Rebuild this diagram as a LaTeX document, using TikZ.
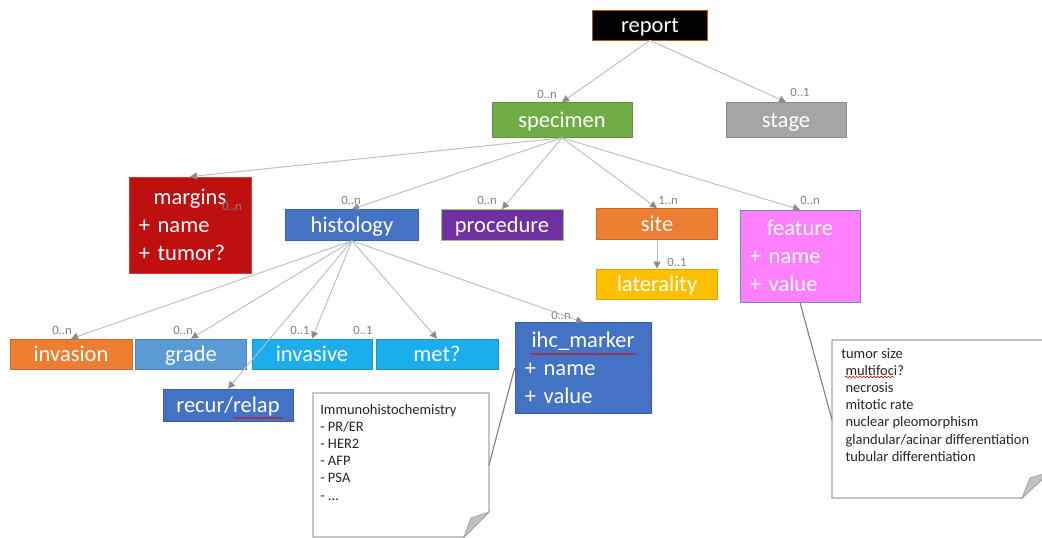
\documentclass[tikz,border=0pt]{standalone}
\usepackage{fontspec}
\setmainfont{Carlito}
\usetikzlibrary{arrows.meta,decorations.pathmorphing}

\definecolor{cgreen}{HTML}{70AD47}
\definecolor{cgray}{HTML}{A5A5A5}
\definecolor{cred}{HTML}{C00F0F}
\definecolor{cblue}{HTML}{4472C4}
\definecolor{cpurple}{HTML}{7030A0}
\definecolor{corange}{HTML}{ED7D31}
\definecolor{cgold}{HTML}{FFC000}
\definecolor{cpink}{HTML}{FF80FF}
\definecolor{clight}{HTML}{5B9BD5}
\definecolor{ccyan}{HTML}{1AAFEC}
\definecolor{labgray}{HTML}{7F7F7F}
\definecolor{linegray}{HTML}{BFBFBF}
\definecolor{tipgray}{HTML}{8C8C8C}
\definecolor{notegray}{HTML}{A6A6A6}

\begin{document}
\begin{tikzpicture}[x=0.025cm, y=-0.025cm,
    box/.style={draw, rectangle, text=white, inner sep=0pt, line width=0.5pt,
        font=\fontsize{16}{20}\selectfont},
    oneline/.style={box, text height=14pt, text depth=3pt},
    lab/.style={text=labgray, inner sep=0pt, font=\fontsize{9}{10}\selectfont},
    link/.style={draw=linegray, line width=0.7pt, -{Triangle[length=5pt,width=5pt,color=tipgray]}},
    callout/.style={draw=gray, line width=0.8pt},
    notebox/.style={draw=notegray, fill=white, line width=0.8pt},
    notetext/.style={anchor=north west, align=left, inner sep=0pt, text=black!85,
        font=\fontsize{10.3}{12.2}\selectfont},
    squig/.style={draw=red!85!black, line width=0.4pt, decorate,
        decoration={snake, amplitude=0.6pt, segment length=2.5pt}}]
        \useasboundingbox (0,0) rectangle (1042,538);

        \node[oneline, fill=black, draw=orange!70!black, minimum width=2.875cm, minimum height=0.75cm] (report) at (650,25) {report};
        \node[oneline, fill=cgreen, draw=cgreen!85!black, minimum width=3.5cm, minimum height=0.875cm] (specimen) at (562,120) {specimen};
        \node[oneline, fill=cgray, draw=cgray!85!black, minimum width=3cm, minimum height=0.875cm] (stage) at (786,120) {stage};

        \node[box, fill=cred, draw=cred!80!white, minimum width=3.05cm, minimum height=2.4cm, text width=2.55cm, align=left] (margins) at (190,225)
            {\makebox[2.55cm]{margins}\\+ name\\+ tumor?};
        \node[oneline, fill=cblue, draw=cblue!85!black, minimum width=3.325cm, minimum height=0.775cm] (histology) at (352,225) {histology};
        \node[oneline, fill=cpurple, draw=cgreen!70!white, minimum width=3.05cm, minimum height=0.775cm] (procedure) at (502,225) {procedure};
        \node[oneline, fill=corange, draw=corange!85!black, minimum width=3.025cm, minimum height=0.775cm] (site) at (657,224) {site};
        \node[oneline, fill=cgold, draw=cgold!85!black, minimum width=3.025cm, minimum height=0.75cm] (laterality) at (657,284) {laterality};
        \node[box, fill=cpink, draw=cblue!80!white, minimum width=3cm, minimum height=2.3cm, text width=2.5cm, align=left] (feature) at (800,256)
            {\makebox[2.5cm]{feature}\\+ name\\+ value};

        \node[oneline, fill=corange, draw=corange!85!black, minimum width=3.05cm, minimum height=0.75cm] (invasion) at (71,354) {invasion};
        \node[oneline, fill=clight, draw=clight!85!black, minimum width=2.775cm, minimum height=0.75cm] (grade) at (191,354) {grade};
        \node[oneline, fill=ccyan, draw=ccyan!85!black, minimum width=3cm, minimum height=0.75cm] (invasive) at (312,354) {invasive};
        \node[oneline, fill=ccyan, draw=ccyan!85!black, minimum width=3.05cm, minimum height=0.75cm] (met) at (437,354) {met?};
        \node[box, fill=cblue, draw=cblue!85!black, minimum width=3.4cm, minimum height=2.275cm, text width=2.9cm, align=left] (ihc) at (583,368)
            {\makebox[2.9cm]{ihc\_marker}\\+ name\\+ value};
        \node[oneline, fill=cblue, draw=cblue!85!black, minimum width=3.25cm, minimum height=0.8cm] (recur) at (228,405) {recur/relap};

        % multiplicity labels
        \node[lab] (l1) at (547,94) {0..n};
        \node[lab] (l2) at (800,92) {0..1};
        \node[lab] (l3) at (232,206) {0..n};
        \node[lab] (l4) at (351,200) {0..n};
        \node[lab] (l5) at (487,200) {0..n};
        \node[lab] (l6) at (668,200) {1..n};
        \node[lab] (l7) at (810,200) {0..n};
        \node[lab] (l8) at (677,262) {0..1};
        \node[lab] (l9) at (62,330) {0..n};
        \node[lab] (l10) at (183,330) {0..n};
        \node[lab] (l11) at (300,330) {0..1};
        \node[lab] (l12) at (363,330) {0..1};
        \node[lab] (l13) at (561,315) {0..n};

        \draw[link] (report.south) -- (specimen.north);
        \draw[link] (report.south) -- (stage.north);
        \draw[link] (specimen.south) -- (margins.north);
        \draw[link] (specimen.south) -- (histology.north);
        \draw[link] (specimen.south) -- (procedure.north);
        \draw[link] (specimen.south) -- (site.north);
        \draw[link] (specimen.south) -- (feature.north);
        \draw[link] (site.south) -- (laterality.north);
        \draw[link] (histology.south) -- (invasion.north);
        \draw[link] (histology.south) -- (grade.north);
        \draw[link] (histology.south) -- (invasive.north);
        \draw[link] (histology.south) -- (met.north);
        \draw[link] (histology.south) -- (ihc.north);
        \draw[link] (histology.south) -- (recur.north);

        % notes
        \draw[notebox] (313,393) -- (489,393) -- (489,512) -- (464,537) -- (313,537) -- cycle;
        \filldraw[draw=notegray, fill=notegray!70, line width=0.6pt] (489,512) -- (471,518) -- (464,537) -- cycle;
        \coordinate (n1pt) at (489,465);
        \node[notetext] (ihcnote) at (320,404)
            {Immunohistochemistry\\- PR/ER\\- HER2\\- AFP\\- PSA\\- ...};

        \draw[notebox] (832,340) -- (1050,340) -- (1050,472) -- (1022,498) -- (832,498) -- cycle;
        \filldraw[draw=notegray, fill=notegray!70, line width=0.6pt] (1050,472) -- (1030,478) -- (1022,498) -- cycle;
        \coordinate (n2pt) at (832,420);
        \node[notetext] (featnote) at (841,348)
            {tumor size\\\hspace*{3pt}multifoci?\\\hspace*{3pt}necrosis\\\hspace*{3pt}mitotic rate\\\hspace*{3pt}nuclear pleomorphism\\\hspace*{3pt}glandular/acinar differentiation\\\hspace*{3pt}tubular differentiation};

        \draw[callout] (ihc.west) -- (n1pt);
        \draw[callout] (feature.south) -- (n2pt);

        % spell check marks
        \draw[squig] (233,418) -- (283,418);
        \draw[squig] (530,354) -- (637,354);
        \draw[squig] (845,377) -- (894,377);
\end{tikzpicture}
\end{document}
